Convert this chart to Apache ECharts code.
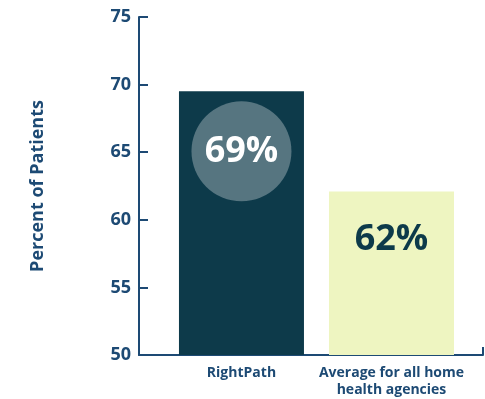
<!DOCTYPE html>
<html><head><meta charset="utf-8">
<script src="https://cdn.jsdelivr.net/npm/echarts@6/dist/echarts.min.js"></script>
<style>html,body{margin:0;padding:0;background:#fff}#c{width:485px;height:399px}</style>
</head><body><div id="c"></div>
<script>
const categories = ['RightPath', 'Average for all home\nhealth agencies'];
const values = [69.5, 62.1];
const valueLabels = ['69%', '62%'];
const yTicks = [50, 55, 60, 65, 70, 75];
const axisTitle = 'Percent of Patients';

const navy = '#1d4a74';
const font = '"Open Sans"';
const chart = echarts.init(document.getElementById('c'));
chart.setOption({
  animation: false,
  grid: {left: 139, right: 2, top: 17, bottom: 43},
  xAxis: {
    type: 'value', min: 0.317, max: 2.61,
    splitLine: {show: false},
    axisLine: {show: true, lineStyle: {color: navy, width: 2}},
    axisTick: {show: true, inside: true, length: 8, customValues: [2.61], lineStyle: {color: navy, width: 2}},
    axisLabel: {
      customValues: [1, 2], margin: 10,
      formatter: v => categories[Math.round(v) - 1] || '',
      color: navy, fontFamily: font, fontWeight: 'bold', fontSize: 14, lineHeight: 17
    }
  },
  yAxis: {
    type: 'value', min: yTicks[0], max: yTicks[yTicks.length - 1], interval: 5,
    name: axisTitle, nameLocation: 'middle', nameGap: 92, nameRotate: 90,
    nameTextStyle: {color: navy, fontFamily: font, fontWeight: 'bold', fontSize: 18},
    splitLine: {show: false},
    axisLine: {show: true, lineStyle: {color: navy, width: 2}},
    axisTick: {show: true, inside: true, length: 9, lineStyle: {color: navy, width: 2}},
    axisLabel: {color: navy, fontFamily: font, fontWeight: 'bold', fontSize: 18, margin: 8}
  },
  series: [{
    type: 'bar', barWidth: 125,
    data: values.map((v, i) => ({
      value: [i + 1, v],
      itemStyle: {color: i === 0 ? '#0d3a4a' : '#eef5c1'},
      label: i === 0 ? {
        show: true, position: 'insideTop', distance: 10,
        formatter: valueLabels[i],
        width: 100, height: 100, lineHeight: 100, align: 'center',
        backgroundColor: 'rgba(255,255,255,0.3)', borderRadius: 50,
        color: '#ffffff', fontFamily: font, fontWeight: 'bold', fontSize: 36
      } : {
        show: true, position: 'insideTop', distance: 24,
        formatter: valueLabels[i],
        height: 48, lineHeight: 48, align: 'center',
        color: '#0d3a4a', fontFamily: font, fontWeight: 'bold', fontSize: 36
      }
    }))
  }]
});
</script></body></html>
